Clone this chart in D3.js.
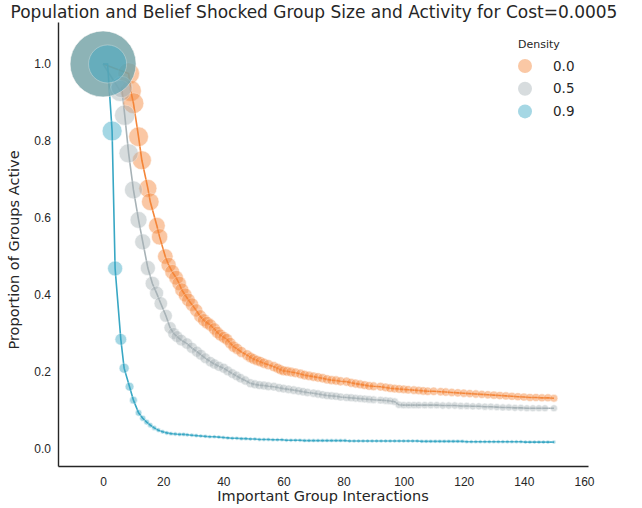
<!DOCTYPE html>
<html>
<head>
<meta charset="utf-8">
<script src="https://cdn.jsdelivr.net/npm/d3@7"></script>
<style>
    body { margin: 0; background: #fff; }
    svg { display: block; font-family: "DejaVu Sans", sans-serif; }
</style>
</head>
<body>
<svg id="chart" width="642" height="508"></svg>
<script>
// [interactions, proportion active]
const density00 = [
    [0, 1.0], [8.5, 0.975], [9.2, 0.93], [10.1, 0.898], [11.8, 0.811], [12.9, 0.75],
    [14.9, 0.677], [15.7, 0.642], [17.9, 0.58], [18.8, 0.551], [20.7, 0.5], [21.8, 0.478],
    [23, 0.46], [24.3, 0.445], [25.3, 0.43], [26.2, 0.413], [27.3, 0.4], [28.4, 0.387],
    [29.6, 0.375], [31, 0.36], [32.3, 0.345], [33.5, 0.335], [34.6, 0.328], [35.7, 0.322],
    [37, 0.312], [38, 0.303], [39, 0.296], [40.2, 0.29], [41.2, 0.285], [42.3, 0.275],
    [43.4, 0.266], [44.6, 0.26], [46, 0.252], [47.9, 0.244], [49, 0.238], [50, 0.234],
    [51.2, 0.23], [52.3, 0.227], [53.5, 0.223], [55, 0.219], [56.8, 0.214], [58, 0.21],
    [59, 0.206], [60, 0.203], [61.2, 0.202], [62.5, 0.2], [64, 0.198], [65.7, 0.195],
    [67, 0.192], [68.5, 0.19], [70, 0.188], [71.5, 0.186], [73, 0.184], [74.5, 0.181],
    [76, 0.179], [77.5, 0.178], [79, 0.176], [81, 0.175], [82.5, 0.172], [84, 0.17],
    [85.5, 0.168], [87, 0.166], [88.5, 0.164], [90, 0.163], [92.3, 0.162], [94, 0.16],
    [95.5, 0.158], [97, 0.157], [98.5, 0.156], [100, 0.155], [101.5, 0.154], [103.4, 0.153],
    [105, 0.152], [106.5, 0.151], [108, 0.15], [110, 0.15], [112.3, 0.149], [114, 0.148],
    [116, 0.147], [118, 0.146], [120, 0.145], [122, 0.144], [124, 0.143], [126, 0.142],
    [128, 0.141], [130, 0.14], [132, 0.139], [134, 0.138], [136, 0.137], [138, 0.136],
    [140, 0.135], [142, 0.134], [144, 0.134], [146, 0.133], [148, 0.133], [150, 0.132]
];

const density05 = [
    [0, 1.0], [5.7, 0.93], [6.2, 0.94], [7.2, 0.867], [8.5, 0.768], [10.1, 0.673],
    [11.8, 0.595], [13.2, 0.538], [14.9, 0.47], [16.4, 0.43], [17.8, 0.405], [19.2, 0.378],
    [20.9, 0.346], [22.3, 0.315], [23.5, 0.3], [24.6, 0.292], [26, 0.283], [27.9, 0.274],
    [29.5, 0.263], [31.2, 0.253], [32.5, 0.245], [34, 0.236], [35.7, 0.227], [37, 0.221],
    [38.5, 0.215], [40.1, 0.21], [41.5, 0.203], [43, 0.196], [44.4, 0.19], [45.7, 0.184],
    [47.3, 0.178], [49, 0.171], [50.5, 0.168], [52, 0.166], [53.5, 0.165], [55, 0.163],
    [56.8, 0.162], [58.5, 0.159], [60, 0.157], [61.7, 0.155], [63.4, 0.153], [65, 0.151],
    [66.5, 0.149], [68, 0.147], [70, 0.145], [71.5, 0.143], [73, 0.141], [74.5, 0.139],
    [76, 0.138], [77.5, 0.137], [79, 0.135], [81, 0.134], [82.5, 0.133], [84, 0.132],
    [85.5, 0.131], [87, 0.13], [88.5, 0.129], [90, 0.128], [92.3, 0.127], [94, 0.126],
    [95.5, 0.125], [97, 0.123], [98.4, 0.115], [100, 0.114], [101.7, 0.114], [103.4, 0.114],
    [105, 0.114], [107, 0.114], [109, 0.114], [111, 0.114], [113, 0.113], [115, 0.113],
    [117, 0.113], [119, 0.112], [121, 0.112], [123, 0.111], [125, 0.111], [127, 0.11],
    [129, 0.11], [131, 0.109], [133, 0.108], [135, 0.108], [137, 0.107], [139, 0.107],
    [141, 0.106], [143, 0.106], [145, 0.106], [147, 0.106], [150, 0.106]
];

const density09 = [
    [0, 1.0], [1.5, 1.0], [3, 0.826], [4, 0.469], [5.9, 0.285], [7, 0.21],
    [8.8, 0.162], [10.1, 0.127], [11.8, 0.094], [13.2, 0.08], [14.5, 0.07], [15.7, 0.062],
    [17, 0.055], [18.4, 0.049], [19.8, 0.045], [21.2, 0.042], [22.6, 0.04], [24, 0.039],
    [25.4, 0.038], [26.8, 0.038], [28, 0.037], [29.5, 0.036], [31, 0.035], [32.5, 0.034],
    [34, 0.033], [35.5, 0.032], [37, 0.032], [38.5, 0.031], [40, 0.03], [41.5, 0.029],
    [43, 0.028], [44.5, 0.028], [46, 0.027], [47.5, 0.027], [49, 0.026], [50.5, 0.026],
    [52, 0.025], [53.5, 0.025], [55, 0.025], [56.5, 0.024], [58, 0.024], [59.5, 0.024],
    [61, 0.023], [62.5, 0.023], [64, 0.023], [65.5, 0.023], [67, 0.022], [68.5, 0.022],
    [70, 0.022], [71.5, 0.022], [73, 0.022], [74.5, 0.022], [76, 0.022], [77.5, 0.022],
    [79, 0.022], [80.5, 0.022], [82, 0.021], [83.5, 0.021], [85, 0.021], [86.5, 0.021],
    [88, 0.021], [89.5, 0.021], [91, 0.021], [92.5, 0.021], [94, 0.021], [95.5, 0.021],
    [97, 0.021], [98.5, 0.021], [100, 0.021], [101.5, 0.021], [103, 0.021], [104.5, 0.021],
    [106, 0.02], [107.5, 0.02], [109, 0.02], [110.5, 0.02], [112, 0.02], [113.5, 0.02],
    [115, 0.02], [116.5, 0.02], [118, 0.02], [119.5, 0.02], [121, 0.019], [122.5, 0.019],
    [124, 0.019], [125.5, 0.019], [127, 0.019], [128.5, 0.019], [130, 0.019], [131.5, 0.019],
    [133, 0.019], [134.5, 0.019], [136, 0.019], [137.5, 0.019], [139, 0.019], [140.5, 0.018],
    [142, 0.018], [143.5, 0.018], [145, 0.018], [146.5, 0.018], [148, 0.018], [150, 0.018]
];

// group size of the leading points (relative); other points are sized by activity
const leadingSizes00 = [9];
const leadingSizes05 = [9];
const leadingSizes09 = [9, 3];

const densityLabels = ['0.0', '0.5', '0.9'];
const xTicks = [0, 20, 40, 60, 80, 100, 120, 140, 160];
const yTicks = [0, 0.2, 0.4, 0.6, 0.8, 1.0];

const series = [
    { label: densityLabels[0], points: density00, leading: leadingSizes00, color: '#f48538' },
    { label: densityLabels[1], points: density05, leading: leadingSizes05, color: '#a7b2b6' },
    { label: densityLabels[2], points: density09, leading: leadingSizes09, color: '#38a7c4' }
];

const svg = d3.select('#chart');
const textColor = '#262626';

const x = d3.scaleLinear().domain([-15, 161.33]).range([58, 588]);
const y = d3.scaleLinear().domain([-0.044, 1.109]).range([466, 22]);
const radius = d3.scaleSqrt().domain([0, 1]).range([0, 11]);

const sizeOf = (s, i) => i < s.leading.length ? s.leading[i] : s.points[i][1];

// lines first, the translucent points go over them
const line = d3.line()
    .x(d => x(d[0]))
    .y(d => y(d[1]));

series.forEach(s => {
    svg.append('path')
        .datum(s.points)
        .attr('d', line)
        .attr('fill', 'none')
        .attr('stroke', s.color)
        .attr('stroke-width', 1.6);
});

const pointLayer = svg.append('g');
series.forEach(s => {
    pointLayer.append('g')
        .selectAll('circle')
        .data(s.points)
        .enter()
        .append('circle')
        .attr('cx', d => x(d[0]))
        .attr('cy', d => y(d[1]))
        .attr('r', (d, i) => Math.max(2, radius(sizeOf(s, i))))
        .attr('fill', s.color)
        .attr('stroke', '#fff')
        .attr('stroke-width', 0.6)
        .attr('opacity', 0.45);
});

// axes, seaborn white style: no tick marks, left and bottom spines only
const xAxis = svg.append('g')
    .attr('transform', 'translate(0,466)')
    .call(d3.axisBottom(x).tickValues(xTicks).tickSize(0).tickPadding(11));

const yAxis = svg.append('g')
    .attr('transform', 'translate(58,0)')
    .call(d3.axisLeft(y).tickValues(yTicks).tickFormat(d3.format('.1f')).tickSize(0).tickPadding(7));

[xAxis, yAxis].forEach(axis => {
    axis.select('.domain')
        .attr('stroke', textColor)
        .attr('stroke-width', 1.4);
    axis.selectAll('text')
        .attr('fill', textColor)
        .style('font-size', '12px');
});

svg.append('text')
    .attr('x', 323)
    .attr('y', 501)
    .attr('text-anchor', 'middle')
    .attr('fill', textColor)
    .style('font-size', '14.5px')
    .text('Important Group Interactions');

svg.append('text')
    .attr('transform', 'translate(19,250) rotate(-90)')
    .attr('text-anchor', 'middle')
    .attr('fill', textColor)
    .style('font-size', '14.5px')
    .text('Proportion of Groups Active');

svg.append('text')
    .attr('x', 314)
    .attr('y', 18)
    .attr('text-anchor', 'middle')
    .attr('fill', textColor)
    .style('font-size', '17px')
    .text('Population and Belief Shocked Group Size and Activity for Cost=0.0005');

// legend
const legend = svg.append('g').attr('transform', 'translate(518,0)');

legend.append('text')
    .attr('x', 0)
    .attr('y', 48)
    .attr('fill', textColor)
    .style('font-size', '11px')
    .text('Density');

const items = legend.selectAll('g.item')
    .data(series)
    .enter()
    .append('g')
    .attr('class', 'item')
    .attr('transform', (d, i) => `translate(0,${66 + i * 22.7})`);

items.append('circle')
    .attr('cx', 7)
    .attr('cy', 0)
    .attr('r', 7)
    .attr('fill', d => d.color)
    .attr('opacity', 0.45);

items.append('text')
    .attr('x', 35)
    .attr('y', 0)
    .attr('dy', '0.35em')
    .attr('fill', textColor)
    .style('font-size', '13.5px')
    .text(d => d.label);
</script>
</body>
</html>
